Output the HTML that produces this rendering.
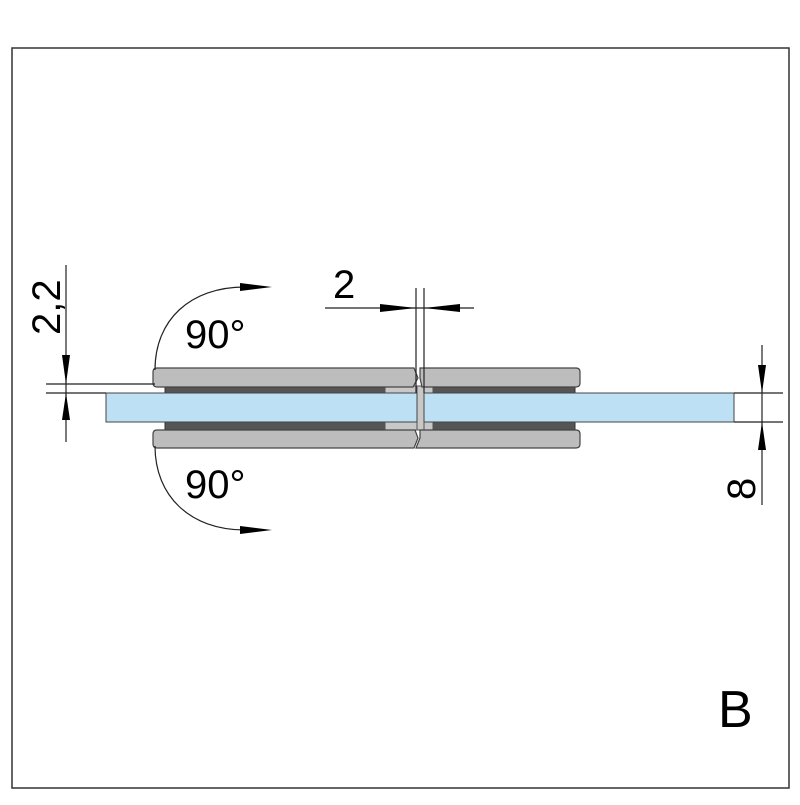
<!DOCTYPE html><html><head><style>body{margin:0;background:#fff}</style></head><body>
<svg width="800" height="800" viewBox="0 0 800 800" xmlns="http://www.w3.org/2000/svg" font-family="Liberation Sans, DejaVu Sans, sans-serif">
<rect x="0" y="0" width="800" height="800" fill="#fff"/>
<rect x="12" y="48" width="777" height="740" fill="none" stroke="#333" stroke-width="1.5"/>
<g fill="#555" stroke="#333" stroke-width="1">
<rect x="165" y="385" width="220" height="9"/><rect x="433" y="385" width="142" height="9"/>
<rect x="165" y="421" width="220" height="9"/><rect x="433" y="421" width="142" height="9"/>
</g>
<g fill="#c8c8c8" stroke="#555"><rect x="385" y="386" width="48" height="7"/><rect x="385" y="422" width="48" height="8"/><rect x="417" y="386" width="7" height="44"/></g>
<g fill="#bdbdbd" stroke="#444" stroke-width="1.2">
<path d="M157,368 H414 L418,378 L413,387 H157 Q153,387 153,383 V372 Q153,368 157,368 Z"/><path d="M420,368 H576 Q580,368 580,372 V383 Q580,387 576,387 H422 L420,378 Z"/>
<path d="M157,430 H415 L418,438 L414,448 H157 Q153,448 153,444 V434 Q153,430 157,430 Z"/><path d="M420,430 H576 Q580,430 580,434 V444 Q580,448 576,448 H416 L420,438 Z"/>
</g>
<g fill="#bde0f5" stroke="#444" stroke-width="1"><rect x="106" y="393" width="311" height="29"/><rect x="424" y="393" width="310" height="29"/></g>
<g stroke="#222" stroke-width="1.2" fill="none">
<line x1="66" y1="265" x2="66" y2="442"/><line x1="46" y1="384" x2="155" y2="384"/><line x1="46" y1="393" x2="106" y2="393"/>
<line x1="762" y1="345" x2="762" y2="505"/><line x1="734" y1="393" x2="783" y2="393"/><line x1="734" y1="422" x2="783" y2="422"/>
<line x1="325" y1="308" x2="474" y2="308"/><line x1="416" y1="288" x2="416" y2="393"/><line x1="424" y1="288" x2="424" y2="393"/>
<path d="M155,370 C155,320 190,287 245,287"/><path d="M155,446 C155,496 190,530 245,530"/>
</g>
<g fill="#000">
<polygon points="62,355 70,355 66,384"/><polygon points="62,420 70,420 66,393"/>
<polygon points="758,365 766,365 762,393"/><polygon points="758,450 766,450 762,422"/>
<polygon points="380,304 380,312 416,308"/><polygon points="460,304 460,312 424,308"/>
<polygon points="240,283 240,291 272,287"/><polygon points="240,526 240,534 272,530"/>
</g>
<g font-size="40" fill="#000">
<text x="185" y="348">90°</text><text x="185" y="498">90°</text>
<text x="333" y="298">2</text>
<text x="718" y="727" font-size="52">B</text>
<text transform="translate(60,335) rotate(-90)">2,2</text>
<text transform="translate(755,500) rotate(-90)">8</text>
</g>
</svg></body></html>
